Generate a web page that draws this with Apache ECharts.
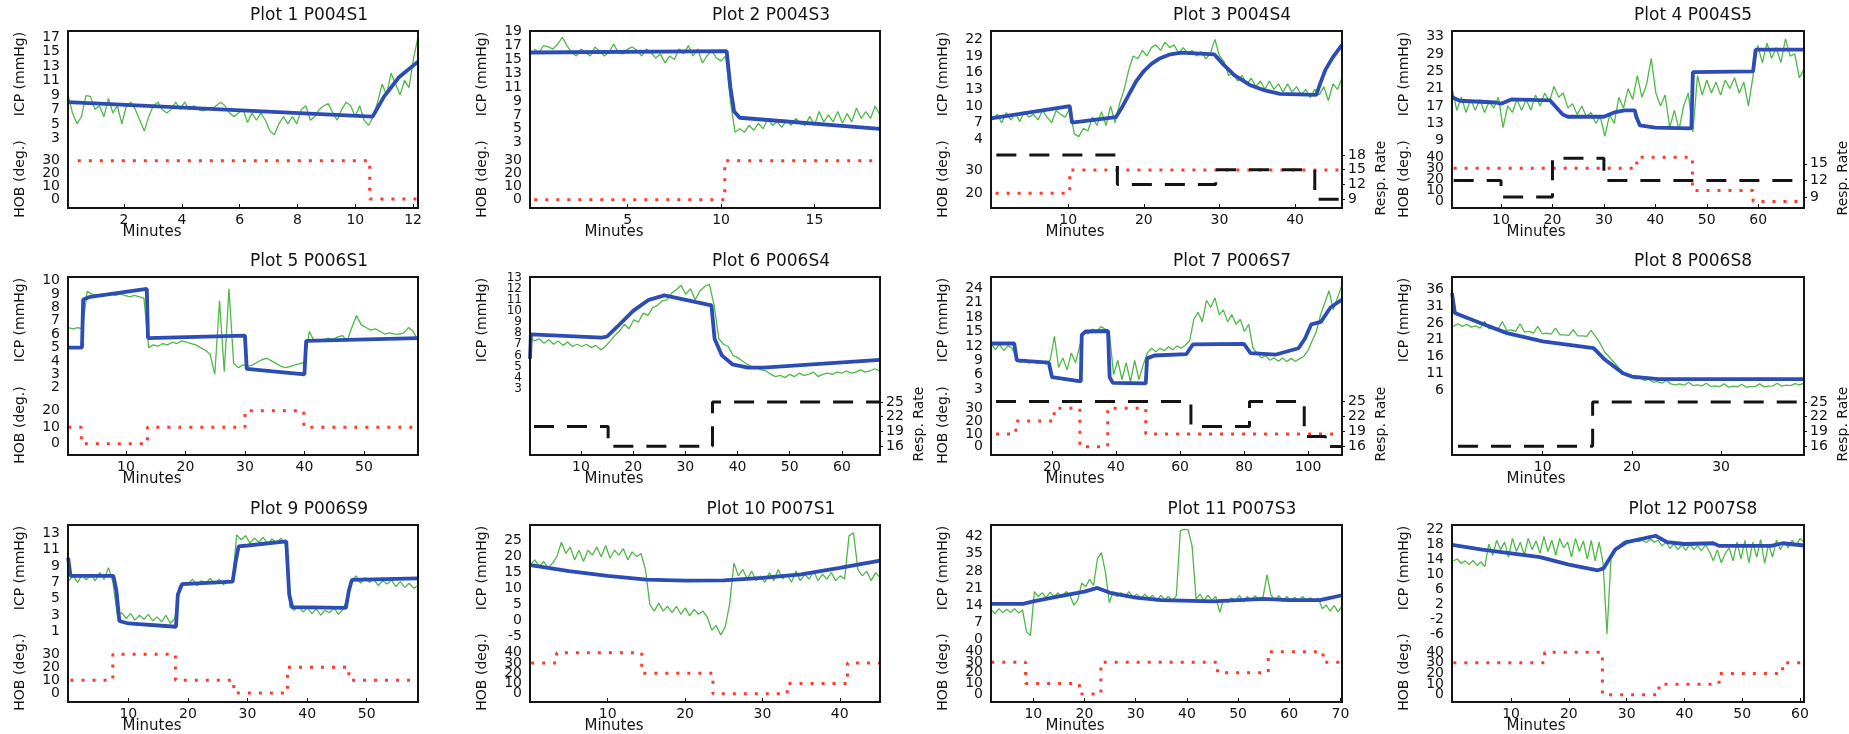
<!DOCTYPE html>
<html>
<head>
<meta charset="utf-8">
<script src="https://cdn.jsdelivr.net/npm/echarts@6/dist/echarts.min.js"></script>
<style>
html, body { margin: 0; background: #fff; }
#main { width: 1849px; height: 734px; }
</style>
</head>
<body>
<div id="main"></div>
<script>
// ---- Plot 1 P004S1
var p1Icp = [9, 6.5, 5, 6, 8.9, 8.8, 7, 7.5, 6, 8.5, 6.5, 7.5, 5, 7.5, 8, 7, 5.5, 4, 6, 7.5, 8, 7, 6.5, 7, 8, 7, 8, 7, 7.5, 7, 6.8, 7, 7, 7.5, 8, 7.5, 6.5, 6, 6.5, 7, 5.2, 6.5, 5.5, 6.5, 5.5, 4, 3.5, 5, 6, 5, 6, 5, 7, 7.5, 5.5, 6, 7, 7.5, 7.8, 6.5, 5.5, 7, 8, 7.5, 6, 7.5, 5.5, 4.8, 6, 8, 10.5, 9, 12, 10.5, 9, 11, 10, 14, 17];
var p1IcpSpan = [0.06, 12.17];
var p1Fit = [[0.06, 8], [10.6, 6], [11.0, 8.8], [11.5, 11.4], [12.17, 13.6]];
var p1Hob = [[0.4, 30], [10.5, 0], [12.17, 0]];
var p1XTicks = [2, 4, 6, 8, 10, 12];
var p1IcpTicks = [3, 5, 7, 9, 11, 13, 15, 17];
var p1HobTicks = [0, 10, 20, 30];

// ---- Plot 2 P004S3
var p2Icp = [16.5, 16, 17, 16.8, 16.5, 17.2, 18.2, 17, 16, 15.5, 16.5, 16, 15.5, 16.8, 16.2, 15.5, 16, 17.2, 16, 15.8, 16.5, 16.8, 16.3, 15.5, 16.5, 16, 15.2, 15.8, 14.5, 15.5, 15, 16.5, 15.8, 17, 15.5, 16.5, 14.5, 15.5, 16.3, 15.2, 14.8, 15.5, 9, 4.5, 5, 4.5, 5.5, 4.8, 5.8, 5, 6.5, 5.5, 6, 5.2, 6.2, 5.5, 6.5, 5.8, 5.5, 6.8, 5.5, 7.5, 6, 7, 6, 7.5, 5.8, 7.2, 6, 8, 6.5, 7.5, 6.5, 8.3, 7];
var p2IcpSpan = [0, 18.5];
var p2Fit = [[-0.2, 16], [10.3, 16.2], [10.5, 11], [10.7, 7.5], [11, 6.6], [18.5, 5]];
var p2Hob = [[0, 0], [10.2, 30], [18.5, 30]];
var p2XTicks = [5, 10, 15];
var p2IcpTicks = [3, 5, 7, 9, 11, 13, 15, 17, 19];
var p2HobTicks = [0, 10, 20, 30];

// ---- Plot 3 P004S4
var p3Icp = [7.5, 8.5, 7, 8.8, 7.5, 8.7, 7.2, 9, 8, 8.5, 7.5, 9.2, 8, 7, 9.2, 8.5, 8, 9.5, 5, 4.5, 6, 5.5, 8, 6.5, 9, 6.5, 10, 7, 10.5, 13, 16.5, 19, 18.5, 20, 19, 20.5, 21, 20, 21.5, 20.5, 21, 19.5, 20.5, 19.5, 20, 19, 19.8, 18.5, 19.5, 22, 19, 18, 15.5, 16, 14.5, 15.5, 14, 15, 13.5, 14.5, 13, 14.5, 13, 14, 12.5, 14, 12.5, 13.5, 12, 13, 11.5, 13, 12, 13.5, 11, 14, 13, 15];
var p3IcpSpan = [0, 46.2];
var p3Fit = [[-0.2, 7.8], [10.2, 10], [10.5, 7], [16.3, 8], [17, 9.5], [18, 12], [19, 14.5], [20, 16.3], [21, 17.6], [22, 18.5], [23.5, 19.3], [25, 19.6], [29.3, 19.3], [30.5, 17.5], [32, 15.5], [34, 13.8], [36, 12.8], [38, 12.2], [42.8, 12], [43.3, 14], [44, 16.5], [45, 18.8], [46.2, 21]];
var p3Hob = [[0.4, 20], [10.2, 30], [46.2, 30]];
var p3Resp = [[0.5, 18], [16.5, 12], [29.5, 15], [42.6, 9], [46, 9]];
var p3XTicks = [10, 20, 30, 40];
var p3IcpTicks = [4, 7, 10, 13, 16, 19, 22];
var p3HobTicks = [20, 30];
var p3RespTicks = [9, 12, 15, 18];

// ---- Plot 4 P004S5
var p4Icp = [21, 16, 19, 15.5, 18.5, 16, 18.5, 15.5, 18, 16.5, 19, 12, 17, 15.5, 18.5, 16, 18.5, 16, 19.5, 17, 20, 18, 21.5, 19, 20, 16.5, 17.5, 15, 17, 14.5, 15.5, 13, 14.5, 10, 15, 13, 19, 16.5, 21, 18.5, 24, 19, 22, 28, 20, 17, 19.5, 12, 16, 11.5, 17, 20, 11, 24, 19.5, 23, 20, 22.5, 19.5, 23, 21, 23.5, 20, 22.5, 17, 24, 31, 27, 31.5, 28, 30.5, 27, 32.5, 28.5, 29, 23.5, 25.5];
var p4IcpSpan = [0.5, 68.9];
var p4Fit = [[0.5, 19], [2, 18.2], [9, 17.8], [10, 17.5], [12, 18.5], [19.5, 18.3], [20.5, 17], [22, 15], [23, 14.5], [30, 14.5], [32, 15.5], [34, 16], [36, 16], [36.3, 14.5], [37, 12.5], [40, 12], [47, 11.8], [47.3, 24.8], [59, 25], [59.5, 30], [68.9, 30]];
var p4Hob = [[0.8, 30], [36.4, 40], [47.2, 10], [59, 0], [68.5, 0]];
var p4Resp = [[0.8, 12], [10, 9], [20, 16], [30, 12], [68.5, 12]];
var p4XTicks = [10, 20, 30, 40, 50, 60];
var p4IcpTicks = [9, 13, 17, 21, 25, 29, 33];
var p4HobTicks = [0, 10, 20, 30, 40];
var p4RespTicks = [9, 12, 15];

// ---- Plot 5 P006S1
var p5Icp = [6.5, 6.4, 6.5, 6.4, 9.2, 9, 8.9, 9, 8.9, 9, 8.9, 9, 8.9, 8.8, 8.9, 8.8, 8.7, 5, 5.2, 5.1, 5.3, 5.2, 5.4, 5.3, 5.5, 5.4, 5.3, 5.2, 5, 4.8, 4.5, 3, 8.5, 3.2, 9.4, 3.8, 3.5, 3.7, 3.6, 3.7, 3.9, 4.1, 4.2, 4, 3.8, 3.6, 3.5, 3.6, 3.7, 3.8, 3.9, 6.2, 5.5, 5.5, 5.6, 5.7, 5.6, 5.8, 5.9, 5.5, 6.5, 7.4, 6.7, 6.5, 6.3, 6.4, 6.2, 6, 6.1, 6, 6, 6.1, 6.5, 6.2, 5.5];
var p5IcpSpan = [0.3, 59.1];
var p5Fit = [[0.25, 5], [2.6, 5], [2.8, 8.6], [4, 8.8], [13.5, 9.4], [13.7, 5.7], [30, 5.9], [30.3, 3.4], [40, 3], [40.3, 5.5], [59.1, 5.7]];
var p5Hob = [[0.3, 10], [2.5, 0], [13.6, 10], [30, 20], [39.9, 10], [59.1, 10]];
var p5XTicks = [10, 20, 30, 40, 50];
var p5IcpTicks = [2, 3, 4, 5, 6, 7, 8, 9, 10];
var p5HobTicks = [0, 10, 20];

// ---- Plot 6 P006S4
var p6Icp = [7.6, 7.3, 7.5, 7.1, 7.4, 7, 7.3, 6.9, 7.2, 6.8, 7, 6.8, 7, 6.7, 6.9, 6.5, 6.8, 7.3, 7.8, 8.2, 8.8, 8.4, 9.2, 9, 9.8, 9.6, 10.3, 10.5, 10.9, 11, 11.6, 11.9, 12.3, 11.5, 12, 11, 11.8, 12.2, 12.4, 10.5, 7.5, 7, 6.8, 6, 5.8, 5.5, 5.2, 5, 4.9, 4.7, 4.6, 4.3, 4.1, 4.2, 4, 4.3, 4.1, 4.4, 4.2, 4.3, 4.5, 4.1, 4.3, 4.4, 4.3, 4.5, 4.4, 4.6, 4.4, 4.5, 4.7, 4.5, 4.6, 4.8, 4.6];
var p6IcpSpan = [0.2, 67.2];
var p6Fit = [[0.23, 5.7], [0.4, 7.9], [14, 7.6], [15, 7.7], [17, 8.6], [20, 10], [23, 11], [26, 11.4], [35, 10.5], [35.6, 7.5], [37, 6], [39, 5.2], [42, 4.9], [45, 4.9], [67.3, 5.6]];
var p6Resp = [[1, 20], [15.2, 16], [35.2, 25], [67.3, 25]];
var p6XTicks = [10, 20, 30, 40, 50, 60];
var p6IcpTicks = [3, 4, 5, 6, 7, 8, 9, 10, 11, 12, 13];
var p6RespTicks = [16, 19, 22, 25];

// ---- Plot 7 P006S7
var p7Icp = [12.5, 11.2, 12.3, 11, 12, 11.5, 9.5, 8.5, 9.2, 8.4, 9, 8.3, 8.8, 8.2, 9, 14, 7.5, 9.5, 7, 10.5, 8.5, 12, 15, 14.5, 15.5, 15, 16, 15.5, 15, 6, 9, 5, 8.5, 4.5, 9, 5, 8, 10.5, 11.5, 10.8, 11.5, 11, 11.8, 11.2, 12, 11.5, 12.2, 13, 17.5, 19, 17, 21.5, 20, 22, 18.5, 19.5, 17, 18.5, 16.5, 17.5, 15, 16.5, 11.5, 10.5, 9.5, 10, 9, 9.5, 8.8, 9.5, 8.7, 9.4, 8.8, 9.3, 9.8, 11, 13, 15, 18.5, 21, 23.5, 19.5, 22, 24.5];
var p7IcpSpan = [0.95, 110.5];
var p7Fit = [[0.95, 12.5], [8.2, 12.5], [9, 9], [19, 8.5], [20, 5.5], [29, 4.6], [29.3, 14.3], [30.5, 15], [37.5, 15.1], [38, 5.5], [39, 4.3], [49.3, 4.2], [49.7, 9.4], [52, 10], [62, 10.3], [64, 12.3], [80, 12.4], [82, 10.5], [90, 10.2], [97, 11.5], [99, 13.5], [101, 16.5], [104, 17], [107, 20], [110.5, 21.6]];
var p7Hob = [[2.5, 10], [8.7, 20], [20.7, 30], [28.7, 0], [37.4, 30], [49.3, 10], [110.5, 10]];
var p7Resp = [[2.5, 25], [63.4, 20], [81.7, 25], [98.8, 18], [105.4, 16], [110.5, 16]];
var p7XTicks = [20, 40, 60, 80, 100];
var p7IcpTicks = [3, 6, 9, 12, 15, 18, 21, 24];
var p7HobTicks = [0, 10, 20, 30];
var p7RespTicks = [16, 19, 22, 25];

// ---- Plot 8 P006S8
var p8Icp = [25, 25.8, 25, 25.6, 24.8, 25.2, 24.5, 26.5, 24.3, 24.5, 24, 26.5, 23.8, 24, 23.5, 25.8, 23.3, 23.5, 23, 25, 22.8, 23, 22.7, 24.5, 22.5, 22.5, 22.3, 24, 22.2, 22.2, 22, 23.8, 22, 20, 17.5, 16, 14.5, 13, 11.5, 10.5, 10, 9.3, 9.5, 8.8, 9.2, 8.3, 8.5, 8, 8.8, 7.8, 7.5, 7.8, 7.4, 8.3, 7.3, 7.5, 7.2, 8, 7, 7.2, 7, 7.8, 6.8, 7.1, 6.9, 7.7, 6.8, 7, 7, 7.8, 6.9, 7.1, 7.2, 8, 7.1, 7.4, 7.3, 7.9, 7.5, 8];
var p8IcpSpan = [0, 39.3];
var p8Fit = [[-0.17, 35], [0.15, 29], [3, 26], [6, 23], [10, 20.5], [15.7, 18.5], [17, 15], [18, 13], [19, 11], [20, 10], [23, 9.2], [39.3, 9.2]];
var p8Resp = [[0.5, 16], [15.6, 25], [39.3, 25]];
var p8XTicks = [10, 20, 30];
var p8IcpTicks = [6, 11, 16, 21, 26, 31, 36];
var p8RespTicks = [16, 19, 22, 25];

// ---- Plot 9 P006S9
var p9Icp = [7.2, 7.8, 7, 7.9, 7.3, 8, 7.2, 8.2, 7.4, 8.8, 7, 3, 3.3, 2.6, 3.2, 2.4, 3, 2.5, 3.1, 2.3, 2.8, 2.2, 3, 2, 2.6, 6.5, 7, 6.8, 7.4, 6.6, 7.2, 6.9, 7.5, 6.8, 7.4, 6.7, 7.3, 7, 12.8, 12.2, 12.7, 11.8, 12.4, 11.9, 12.5, 11.7, 12.3, 11.8, 12.4, 11.6, 4, 3.6, 4.1, 3.4, 3.9, 3.2, 3.8, 3, 3.6, 3.3, 3.9, 3.1, 3.7, 5, 7.2, 7.8, 6.9, 7.6, 7, 7.4, 6.6, 7.2, 6.8, 7.3, 6.5, 7.1, 6.4, 6.9, 6.3, 6.6];
var p9IcpSpan = [0, 58.6];
var p9Fit = [[-0.1, 10], [0.3, 7.8], [7.5, 7.8], [8, 6], [8.5, 2.3], [10, 2], [18, 1.6], [18.3, 5.5], [19, 6.8], [27.5, 7.1], [28, 9.5], [28.5, 11.4], [30, 11.5], [36.5, 12], [37, 5.5], [37.5, 4], [46.5, 3.9], [47, 6], [47.5, 7.3], [58.6, 7.5]];
var p9Hob = [[0.3, 10], [7.4, 30], [17.9, 10], [27.7, 0], [36.7, 20], [47, 10], [58.6, 10]];
var p9XTicks = [10, 20, 30, 40, 50];
var p9IcpTicks = [1, 3, 5, 7, 9, 11, 13];
var p9HobTicks = [0, 10, 20, 30];

// ---- Plot 10 P007S1
var p10Icp = [17.5, 19, 17, 18.5, 16.5, 18, 20, 24.5, 21, 23, 19, 22, 18.5, 22, 20.5, 23, 20, 23.5, 19.5, 22, 20.5, 22.5, 19, 21.5, 20, 21, 16, 5, 3, 5.5, 3, 4.5, 2.5, 4.5, 2, 4, 1.5, 3.5, 2, 3, 1, -3, -1.5, -4.5, -2, 5, 18, 14, 16, 13, 15.5, 12.5, 14, 12, 15, 12.5, 16, 13, 14.5, 12, 15.5, 12.5, 14.5, 13, 15.5, 12.5, 14.5, 13, 15, 12.5, 14, 13, 26.5, 27.5, 16, 14, 15.5, 12.5, 15, 13.5];
var p10IcpSpan = [0, 45.2];
var p10Fit = [[0, 17.4], [5, 15.5], [10, 14], [15, 12.8], [20, 12.5], [25, 12.6], [30, 13.4], [35, 14.5], [40, 16.5], [45.2, 18.8]];
var p10Hob = [[0.1, 30], [3.4, 40], [14.4, 20], [23.6, 0], [33.2, 10], [41, 30], [45.2, 30]];
var p10XTicks = [10, 20, 30, 40];
var p10IcpTicks = [-5, 0, 5, 10, 15, 20, 25];
var p10HobTicks = [0, 10, 20, 30, 40];

// ---- Plot 11 P007S3
var p11Icp = [12, 10.5, 12.5, 10.8, 12.3, 11, 12.5, 10.7, 12, 3, 1.5, 19.5, 17.5, 19, 17, 19.3, 17.5, 19, 17.2, 19.5, 18, 14, 16, 23, 21.5, 24.5, 22, 33, 35.5, 27.5, 15, 19.5, 17.5, 19, 17.5, 19.5, 17, 18.5, 16.5, 18.5, 16.8, 18, 15.5, 18, 16.3, 17.5, 15.8, 17.8, 44.5, 45, 44.8, 38, 16.5, 18.5, 15.8, 18, 16, 17.5, 11, 16.5, 15, 17, 15.5, 18, 15.2, 17.5, 15.8, 17.8, 16, 17.5, 26.5, 18, 16, 17.8, 15.5, 17.5, 15.8, 17.2, 15.5, 17.5, 15.8, 17, 15.5, 16.8, 12.5, 14, 11.5, 13.8, 11.2, 13.5];
var p11IcpSpan = [1.74, 70.3];
var p11Fit = [[1.74, 14.5], [8, 14.5], [10, 15.5], [15, 17.5], [20, 19.5], [22.5, 21], [25, 19], [30, 17], [35, 16], [45, 15.5], [55, 16.5], [60, 16], [66, 16], [70.3, 18]];
var p11Hob = [[1.8, 30], [8.5, 10], [19, 0], [23.2, 30], [46, 20], [55.9, 40], [66.6, 30], [70.3, 30]];
var p11XTicks = [10, 20, 30, 40, 50, 60, 70];
var p11IcpTicks = [0, 7, 14, 21, 28, 35, 42];
var p11HobTicks = [0, 10, 20, 30, 40];

// ---- Plot 12 P007S8
var p12Icp = [13.5, 14, 12.8, 13.5, 12.5, 13.6, 12.3, 13.2, 12, 18, 15, 19, 16.5, 18.5, 14.5, 19.5, 16, 18.5, 15, 19.5, 16.5, 18.8, 15.5, 20, 16, 19, 15, 19.5, 17, 18.5, 14.5, 19.5, 16, 18.8, 14, 19, 13.5, 18.5, 13, -6, 14, 16, 17.5, 18.5, 19, 18.5, 19.2, 18.6, 19, 18.4, 19.3, 18.5, 19, 17.5, 18.5, 16.8, 18, 16.5, 17.8, 16.3, 18, 16.5, 17.5, 16.2, 17.8, 16, 13.5, 16.5, 13, 15.5, 17, 13.5, 18.5, 14, 19, 13, 18.5, 14.5, 19.2, 12.8, 18, 14.5, 19, 16.5, 18.5, 17, 19, 17.5, 19.5, 18.5];
var p12IcpSpan = [0, 60.7];
var p12Fit = [[-0.2, 17.8], [5, 16.5], [10, 15.5], [15, 14.5], [20, 12.5], [25, 11], [26, 11.5], [27, 14], [28, 16.5], [30, 18.5], [33, 19.5], [35, 20.2], [37, 18.5], [40, 18], [45, 18.2], [46, 17.5], [55, 17.5], [57, 18.2], [60.7, 17.6]];
var p12Hob = [[0, 30], [15.8, 40], [25.8, 0], [35.6, 10], [46, 20], [57, 30], [60.7, 30]];
var p12XTicks = [10, 20, 30, 40, 50, 60];
var p12IcpTicks = [-6, -2, 2, 6, 10, 14, 18, 22];
var p12HobTicks = [0, 10, 20, 30, 40];

// layout of the 4x3 panel grid (pixels)
var colLeft = [68, 530, 991, 1452];
var colRight = [418, 880, 1342, 1804];
var rowTop = [31, 277, 525];
var rowSplit = [150, 395, 642];
var rowBottom = [208, 455, 702];

var FONT = 'DejaVu Sans';
var GREEN = '#4fb947';
var BLUE = '#2c4db5';
var RED = '#ff3a2c';
var INK = '#141414';

var panels = [
    { title: 'Plot 1 P004S1', col: 0, row: 0, x: [0.06, 12.17], xTicks: p1XTicks, icp: [1.39, 17.83], icpTicks: p1IcpTicks, icpData: p1Icp, icpSpan: p1IcpSpan, fit: p1Fit, hob: [-7, 38.3], hobTicks: p1HobTicks, hobData: p1Hob },
    { title: 'Plot 2 P004S3', col: 1, row: 0, x: [-0.23, 18.51], xTicks: p2XTicks, icp: [1.95, 19.1], icpTicks: p2IcpTicks, icpData: p2Icp, icpSpan: p2IcpSpan, fit: p2Fit, hob: [-6.3, 38.2], hobTicks: p2HobTicks, hobData: p2Hob },
    { title: 'Plot 3 P004S4', col: 2, row: 0, x: [-0.21, 46.2], xTicks: p3XTicks, icp: [2.09, 23.5], icpTicks: p3IcpTicks, icpData: p3Icp, icpSpan: p3IcpSpan, fit: p3Fit, hob: [13.6, 38.6], hobTicks: p3HobTicks, hobData: p3Hob, resp: [7.2, 19], respTicks: p3RespTicks, respData: p3Resp },
    { title: 'Plot 4 P004S5', col: 3, row: 0, x: [0.47, 68.9], xTicks: p4XTicks, icp: [6.83, 34.3], icpTicks: p4IcpTicks, icpData: p4Icp, icpSpan: p4IcpSpan, fit: p4Fit, hob: [-5.9, 46.6], hobTicks: p4HobTicks, hobData: p4Hob, resp: [7, 17.5], respTicks: p4RespTicks, respData: p4Resp },
    { title: 'Plot 5 P006S1', col: 0, row: 1, x: [0.25, 59.1], xTicks: p5XTicks, icp: [1.45, 10.28], icpTicks: p5IcpTicks, icpData: p5Icp, icpSpan: p5IcpSpan, fit: p5Fit, hob: [-6.8, 29.6], hobTicks: p5HobTicks, hobData: p5Hob },
    { title: 'Plot 6 P006S4', col: 1, row: 1, x: [0.23, 67.3], xTicks: p6XTicks, icp: [2.44, 13.05], icpTicks: p6IcpTicks, icpFont: 12, icpData: p6Icp, icpSpan: p6IcpSpan, fit: p6Fit, resp: [14.2, 26.4], respTicks: p6RespTicks, respData: p6Resp },
    { title: 'Plot 7 P006S7', col: 2, row: 1, x: [0.94, 110.6], xTicks: p7XTicks, icp: [1.77, 26.35], icpTicks: p7IcpTicks, icpData: p7Icp, icpSpan: p7IcpSpan, fit: p7Fit, hob: [-6.5, 40.4], hobTicks: p7HobTicks, hobData: p7Hob, resp: [14.3, 26.3], respTicks: p7RespTicks, respData: p7Resp },
    { title: 'Plot 8 P006S8', col: 3, row: 1, x: [-0.17, 39.3], xTicks: p8XTicks, icp: [4.47, 39.8], icpTicks: p8IcpTicks, icpData: p8Icp, icpSpan: p8IcpSpan, fit: p8Fit, resp: [14.2, 26.4], respTicks: p8RespTicks, respData: p8Resp },
    { title: 'Plot 9 P006S9', col: 0, row: 2, x: [-0.12, 58.6], xTicks: p9XTicks, icp: [-0.26, 14], icpTicks: p9IcpTicks, icpData: p9Icp, icpSpan: p9IcpSpan, fit: p9Fit, hob: [-6.9, 39.5], hobTicks: p9HobTicks, hobData: p9Hob },
    { title: 'Plot 10 P007S1', col: 1, row: 2, x: [-0.05, 45.2], xTicks: p10XTicks, icp: [-6.66, 29.9], icpTicks: p10IcpTicks, icpData: p10Icp, icpSpan: p10IcpSpan, fit: p10Fit, hob: [-8, 50.4], hobTicks: p10HobTicks, hobData: p10Hob },
    { title: 'Plot 11 P007S3', col: 2, row: 2, x: [1.74, 70.3], xTicks: p11XTicks, icp: [-1.16, 46.8], icpTicks: p11IcpTicks, icpData: p11Icp, icpSpan: p11IcpSpan, fit: p11Fit, hob: [-7.5, 49.1], hobTicks: p11HobTicks, hobData: p11Hob },
    { title: 'Plot 12 P007S8', col: 3, row: 2, x: [-0.23, 60.7], xTicks: p12XTicks, icp: [-8.13, 23.07], icpTicks: p12IcpTicks, icpData: p12Icp, icpSpan: p12IcpSpan, fit: p12Fit, hob: [-6.8, 49.6], hobTicks: p12HobTicks, hobData: p12Hob }
];

// spread sampled ICP values evenly over their time span
function spread(vals, span) {
    var step = (span[1] - span[0]) / (vals.length - 1);
    return vals.map(function (v, i) { return [span[0] + i * step, v]; });
}

function label(text, x, y, size, rotate, align) {
    return {
        type: 'text', x: x, y: y, rotation: rotate ? Math.PI / 2 : 0, silent: true, z: 50,
        style: {
            text: text, fill: INK, font: size + 'px "' + FONT + '"',
            align: align || 'center', verticalAlign: 'middle',
            textAlign: align || 'center', textVerticalAlign: 'middle'
        }
    };
}

var grids = [], xAxes = [], yAxes = [], series = [], graphics = [];
// y tick labels are drawn afterwards at the axis' own pixel positions
// (echarts drops packed labels on its own, the original keeps them all)
var yLabelJobs = [];

panels.forEach(function (p) {
    var L = colLeft[p.col], R = colRight[p.col];
    var T = rowTop[p.row], S = rowSplit[p.row], B = rowBottom[p.row];
    var g = grids.length;
    grids.push({ left: L, top: T, width: R - L, height: S - T });
    grids.push({ left: L, top: S, width: R - L, height: B - S });

    var xa = xAxes.length;
    xAxes.push({ type: 'value', gridIndex: g, min: p.x[0], max: p.x[1], show: false });
    xAxes.push({
        type: 'value', gridIndex: g + 1, min: p.x[0], max: p.x[1], position: 'bottom',
        axisLine: { show: false, onZero: false }, splitLine: { show: false },
        axisTick: { show: true, inside: true, length: 4, customValues: p.xTicks, lineStyle: { color: INK } },
        axisLabel: {
            customValues: p.xTicks, fontSize: 14, color: INK, fontFamily: FONT, margin: 5,
            showMinLabel: true, showMaxLabel: true
        }
    });

    var ya = yAxes.length;
    yAxes.push({
        type: 'value', gridIndex: g, min: p.icp[0], max: p.icp[1],
        axisLine: { show: false, onZero: false }, axisTick: { show: false }, splitLine: { show: false },
        axisLabel: { show: false }
    });
    yLabelJobs.push({ axis: ya, ticks: p.icpTicks, x: L - 8, align: 'right', size: p.icpFont || 14 });
    if (p.hobData) {
        yAxes.push({
            type: 'value', gridIndex: g + 1, min: p.hob[0], max: p.hob[1], position: 'left',
            axisLine: { show: false, onZero: false }, axisTick: { show: false }, splitLine: { show: false },
            axisLabel: { show: false }
        });
        yLabelJobs.push({ axis: ya + 1, ticks: p.hobTicks, x: L - 8, align: 'right', size: 14 });
    } else {
        yAxes.push({ type: 'value', gridIndex: g + 1, min: 0, max: 1, show: false });
    }
    var yr = -1;
    if (p.respData) {
        yr = yAxes.length;
        yAxes.push({
            type: 'value', gridIndex: g + 1, position: 'right', min: p.resp[0], max: p.resp[1],
            axisLine: { show: false, onZero: false }, splitLine: { show: false },
            axisTick: { show: true, length: 3, customValues: p.respTicks, lineStyle: { color: INK } },
            axisLabel: { show: false }
        });
        yLabelJobs.push({ axis: yr, ticks: p.respTicks, x: R + 6, align: 'left', size: 14 });
    }

    series.push({
        type: 'line', xAxisIndex: xa, yAxisIndex: ya, data: spread(p.icpData, p.icpSpan),
        symbol: 'none', lineStyle: { color: GREEN, width: 1.3 }, z: 2
    });
    series.push({
        type: 'line', xAxisIndex: xa, yAxisIndex: ya, data: p.fit,
        symbol: 'none', lineStyle: { color: BLUE, width: 3.8 }, z: 3
    });
    if (p.hobData) {
        series.push({
            type: 'line', xAxisIndex: xa + 1, yAxisIndex: ya + 1, data: p.hobData, step: 'end',
            symbol: 'none', lineStyle: { color: RED, width: 3, type: [3, 8] }, z: 3
        });
    }
    if (p.respData) {
        series.push({
            type: 'line', xAxisIndex: xa + 1, yAxisIndex: yr, data: p.respData, step: 'end',
            symbol: 'none', lineStyle: { color: INK, width: 3, type: [20, 13] }, z: 4
        });
    }

    // frame, title and axis names
    graphics.push({
        type: 'rect', silent: true, z: 40,
        shape: { x: L, y: T, width: R - L, height: B - T },
        style: { fill: 'none', stroke: INK, lineWidth: 2 }
    });
    graphics.push(label(p.title, L + 241, T - 15.5, 17, false));
    graphics.push(label('ICP (mmHg)', L - 48, T + 43, 14, true));
    if (p.hobData) graphics.push(label('HOB (deg.)', L - 48, (S + B) / 2, 14, true));
    if (p.respData) graphics.push(label('Resp. Rate', R + 39, (S + B) / 2 - 1, 14, true));
    graphics.push(label('Minutes', L + 84, B + 24, 15, false));
});

var myChart = echarts.init(document.getElementById('main'));
myChart.setOption({
    animation: false,
    backgroundColor: '#fff',
    grid: grids,
    xAxis: xAxes,
    yAxis: yAxes,
    series: series
});

yLabelJobs.forEach(function (job) {
    job.ticks.forEach(function (v) {
        var py = myChart.convertToPixel({ yAxisIndex: job.axis }, v);
        graphics.push(label(String(v), job.x, py, job.size, false, job.align));
    });
});
myChart.setOption({ graphic: graphics });
</script>
</body>
</html>
